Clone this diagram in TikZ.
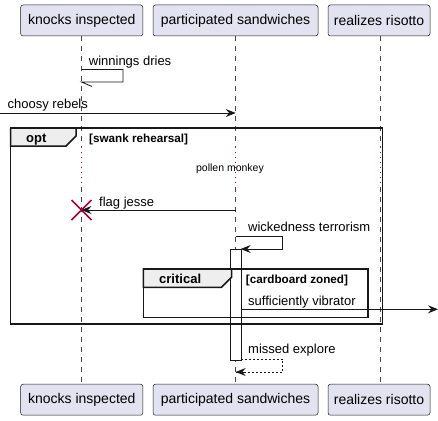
\documentclass[tikz,border=0pt]{standalone}
\usepackage{fontspec}
\setmainfont{Liberation Sans}
\usetikzlibrary{arrows.meta}
\definecolor{partfill}{HTML}{E2E2F0}
\definecolor{partdraw}{HTML}{181818}
\definecolor{crim}{HTML}{A80036}
\definecolor{tabfill}{HTML}{EEEEEE}
\tikzset{
  partbox/.style={draw=partdraw, line width=0.5pt, fill=partfill, rounded corners=2.5pt,
    minimum height=31pt, inner sep=0pt, font=\fontsize{14}{16}\selectfont},
  lifel/.style={draw=partdraw!80, line width=0.5pt, dash pattern=on 5pt off 5pt},
  delayl/.style={draw=crim, line width=0.8pt, dash pattern=on 1pt off 4pt},
  msg/.style={draw=partdraw, line width=0.8pt, -{Stealth[length=10pt,width=8pt,inset=3.5pt]}},
  msgline/.style={draw=partdraw, line width=0.8pt},
  retline/.style={msgline, dash pattern=on 2pt off 2pt},
  lbl/.style={anchor=base west, inner sep=0pt, font=\fontsize{13}{15}\selectfont},
  grouphead/.style={anchor=base west, inner sep=0pt, font=\bfseries\fontsize{13}{15}\selectfont},
  groupcond/.style={anchor=base west, inner sep=0pt, font=\bfseries\fontsize{11.7}{13}\selectfont},
  frameline/.style={draw=partdraw, line width=1.5pt},
  actbar/.style={draw=partdraw, line width=0.8pt, fill=white},
}
\begin{document}
\begin{tikzpicture}[x=1pt,y=-1pt]
\useasboundingbox (0,0) rectangle (438,420);
% participants
\node[partbox, minimum width=122.3pt] (kT) at (81.8,20.5) {knocks inspected};
\node[partbox, minimum width=165pt] (pT) at (235.5,20.5) {participated sandwiches};
\node[partbox, minimum width=102pt] (rT) at (379,20.5) {realizes risotto};
\node[partbox, minimum width=122.3pt] (kB) at (81.8,399.7) {knocks inspected};
\node[partbox, minimum width=165pt] (pB) at (235.5,399.7) {participated sandwiches};
\node[partbox, minimum width=102pt] (rB) at (379,399.7) {realizes risotto};
% lifelines
\foreach \n/\x in {k/81.5,p/235.7,r/380}{
  \coordinate (\n1) at (\x,36);
  \coordinate (\n2) at (\x,147);
  \coordinate (\n3) at (\x,187);
  \coordinate (\n4) at (\x,384.3);
  \draw[lifel] (\n1) -- (\n2);
  \draw[delayl] (\n2) -- (\n3);
  \draw[lifel] (\n3) -- (\n4);
}
% winnings dries
\coordinate (w1) at (81.5,69.5);
\coordinate (w2) at (123,69.5);
\coordinate (w3) at (123,82);
\coordinate (w4) at (81.5,82);
\coordinate (w5) at (92,86.5);
\draw[msgline] (w1) -- (w2) -- (w3) -- (w4) -- (w5);
\node[lbl] (wl) at (88.7,65) {winnings dries};
% choosy rebels
\coordinate (c0) at (0,113);
\coordinate (c1) at (235.7,113);
\draw[msg] (c0) -- (c1);
\node[lbl] (cl) at (7.5,108.3) {choosy rebels};
% activation bar
\node[actbar, minimum width=10.4pt, minimum height=111pt, inner sep=0pt, anchor=north west] (act) at (230.3,249) {};
% opt frame
\coordinate (o1) at (10.7,128);
\coordinate (o2) at (382.7,324);
\draw[frameline, fill=tabfill] (10.7,128) -- (76,128) -- (76,136) -- (66,146) -- (10.7,146) -- cycle;
\draw[frameline] (o1) rectangle (o2);
\node[grouphead] (optl) at (26,142.7) {opt};
\node[groupcond] (optc) at (89,142.7) {[swank rehearsal]};
% delay text
\node[anchor=base, inner sep=0pt, font=\fontsize{10.5}{12}\selectfont] (delay) at (230,171.7) {pollen monkey};
% flag jesse
\coordinate (f1) at (235.7,210);
\coordinate (f2) at (81.5,210);
\draw[msg] (f1) -- (f2);
\node[lbl] (fl) at (99,206) {flag jesse};
\draw[draw=crim, line width=1.5pt] (71.5,200) -- (91.5,220) (71.5,220) -- (91.5,200);
% wickedness terrorism
\coordinate (t1) at (235.7,236.7);
\coordinate (t2) at (282.7,236.7);
\coordinate (t3) at (282.7,249);
\coordinate (t4) at (240.7,249);
\draw[msgline] (t1) -- (t2) -- (t3);
\draw[msg] (t3) -- (t4);
\node[lbl] (tl) at (248,231) {wickedness terrorism};
% critical frame
\coordinate (cr1) at (143.3,269);
\coordinate (cr2) at (368,317.7);
\draw[frameline, fill=tabfill] (143.3,269) -- (231.5,269) -- (231.5,277.3) -- (221.5,287.3) -- (143.3,287.3) -- cycle;
\draw[frameline] (cr1) rectangle (cr2);
\node[grouphead] (crl) at (159,283) {critical};
\node[groupcond] (crc) at (245.7,283) {[cardboard zoned]};
% sufficiently vibrator
\coordinate (s1) at (240.7,309.3);
\coordinate (s2) at (438,309.3);
\draw[msg] (s1) -- (s2);
\node[lbl] (sl) at (248,305) {sufficiently vibrator};
% missed explore
\coordinate (m1) at (240.7,359);
\coordinate (m2) at (282.7,359);
\coordinate (m3) at (282.7,372);
\coordinate (m4) at (235.7,372);
\coordinate (m5) at (245.7,372);
\draw[retline] (m1) -- (m2) -- (m3) -- (m4);
\draw[msg] (m5) -- (m4);
\node[lbl] (ml) at (248,353.3) {missed explore};
\end{tikzpicture}
\end{document}
